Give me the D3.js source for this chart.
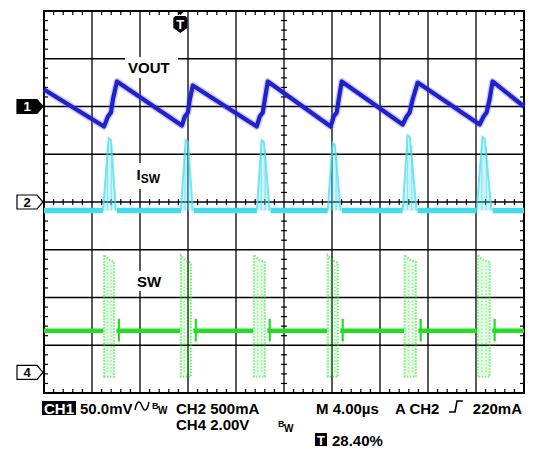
<!DOCTYPE html>
<html>
<head>
<meta charset="utf-8">
<script src="https://cdn.jsdelivr.net/npm/d3@7"></script>
<style>
  body { margin: 0; background: #fff; }
  svg { display: block; font-family: 'Liberation Sans', Arial, sans-serif; font-weight: bold; }
</style>
</head>
<body>
<svg width="535" height="450"></svg>
<script>
// scope settings
const timePerDiv = 4;          // µs
const ch1Scale = 50;           // mV/div
const ch2Scale = 500;          // mA/div
const ch4Scale = 2;            // V/div
const ch1Offset = 2;           // div
const ch2Offset = 0;
const ch4Offset = -3.57;
const triggerPos = 28.40;      // %

// VOUT (mV)
const voutT = [0, 5.00, 5.33, 5.58, 5.74, 6.08, 11.49, 11.74, 11.99, 12.15, 12.40,
  17.73, 17.98, 18.23, 18.40, 18.65, 23.89, 24.14, 24.39, 24.56, 24.81,
  29.89, 30.22, 30.47, 30.72, 31.14, 36.30, 36.63, 36.88, 37.13, 37.38, 40.0];
const voutMv = [17.8, -20.9, -10.5, -6.3, 7.3, 26.2, -19.9, -10.5, -6.3, 7.3, 22.0,
  -20.9, -10.5, -6.3, 7.3, 26.2, -20.9, -10.5, -6.3, 7.3, 26.2,
  -18.8, -10.5, -6.3, 7.3, 25.1, -18.8, -10.5, -6.3, 7.3, 26.2, 0];

// ISW (mA)
const iswStart = [4.91, 11.40, 17.73, 23.64, 29.89, 36.05];
const iswPeakT = [5.49, 11.90, 18.23, 24.14, 30.39, 36.63];
const iswEnd = [5.99, 12.40, 18.81, 24.73, 31.05, 37.30];
const iswPeak = [670, 650, 650, 620, 700, 680];
const iswBase = -90;

// SW (V)
const swStart = [5.00, 11.40, 17.48, 23.64, 30.05, 36.13];
const swEnd = [5.99, 12.40, 18.56, 24.64, 31.14, 37.30];
const swHigh = [4.93, 4.90, 4.93, 4.90, 4.93, 4.93];
const swLow = -0.18;
const swBase = 1.75;

const svg = d3.select('svg');
const x = d3.scaleLinear().domain([0, 10 * timePerDiv]).range([44, 524]);
const yDiv = d3.scaleLinear().domain([-4, 4]).range([393, 11]);
const y1 = (v) => yDiv(ch1Offset + v / ch1Scale);
const y2 = (v) => yDiv(ch2Offset + v / ch2Scale);
const y4 = (v) => yDiv(ch4Offset + v / ch4Scale);

// graticule
const grid = svg.append('g').attr('stroke', '#000');
grid.selectAll('.vl')
  .data(d3.range(1, 10))
  .enter()
  .append('line')
    .attr('x1', (d) => x(d * timePerDiv)).attr('x2', (d) => x(d * timePerDiv))
    .attr('y1', yDiv(4)).attr('y2', yDiv(-4))
    .attr('stroke-width', 1.3)
;
grid.selectAll('.hl')
  .data(d3.range(-3, 4))
  .enter()
  .append('line')
    .attr('x1', x(0)).attr('x2', x(40))
    .attr('y1', (d) => yDiv(d)).attr('y2', (d) => yDiv(d))
    .attr('stroke-width', 1.3)
;
const minorX = d3.range(1, 50).filter((d) => d % 5 !== 0).map((d) => d * timePerDiv / 5);
const minorY = d3.range(-19, 20).filter((d) => d % 5 !== 0).map((d) => d / 5);
// ticks on the border and on the centre lines
minorX.forEach(function (t) {
  [[yDiv(4), yDiv(4) + 4], [yDiv(-4) - 4, yDiv(-4)], [yDiv(0) - 3, yDiv(0) + 3]].forEach(function (s) {
    grid.append('line').attr('x1', x(t)).attr('x2', x(t)).attr('y1', s[0]).attr('y2', s[1]).attr('stroke-width', 1.2);
  });
});
minorY.forEach(function (v) {
  [[x(0), x(0) + 4], [x(40) - 4, x(40)], [x(20) - 3, x(20) + 3]].forEach(function (s) {
    grid.append('line').attr('y1', yDiv(v)).attr('y2', yDiv(v)).attr('x1', s[0]).attr('x2', s[1]).attr('stroke-width', 1.2);
  });
});
grid.append('rect')
  .attr('x', x(0)).attr('y', yDiv(4))
  .attr('width', x(40) - x(0)).attr('height', yDiv(-4) - yDiv(4))
  .attr('fill', 'none').attr('stroke-width', 2)
;

// labels with white boxes
function label(tx, ty, txt, sub, bx) {
  const g = svg.append('g');
  g.append('rect').attr('x', bx[0]).attr('y', bx[1]).attr('width', bx[2]).attr('height', bx[3]).attr('fill', '#fff');
  const t = g.append('text').attr('x', tx).attr('y', ty).attr('font-size', 15).text(txt);
  if (sub) t.append('tspan').attr('font-size', 12).attr('dy', 3).text(sub);
}
label(128, 73, 'VOUT', null, [125, 57, 53, 21]);
label(136.5, 180, 'I', 'SW', [133, 163, 32, 26]);
label(137, 287, 'SW', null, [133, 271, 32, 20]);

// ISW pulses
const cyan = '#44dcec';
const isw = svg.append('g');
iswStart.forEach(function (s, i) {
  const pts = [[s, iswBase], [iswPeakT[i] - 0.1, iswPeak[i]], [iswPeakT[i] + 0.1, iswPeak[i] - 20], [iswEnd[i], iswBase]];
  isw.append('path')
    .attr('d', d3.line().x((d) => x(d[0])).y((d) => y2(d[1]))(pts))
    .attr('fill', cyan).attr('fill-opacity', 0.28)
    .attr('stroke', cyan).attr('stroke-opacity', 0.7).attr('stroke-width', 2)
  ;
  [0.35, 0.65].forEach(function (f) {
    const tt = s + (iswEnd[i] - s) * f;
    isw.append('line')
      .attr('x1', x(tt)).attr('x2', x(tt))
      .attr('y1', y2(iswBase)).attr('y2', y2(iswPeak[i] * 0.85))
      .attr('stroke', cyan).attr('stroke-opacity', 0.5).attr('stroke-width', 1.2)
    ;
  });
});
// ISW baseline segments
const iswSegs = [[0, iswStart[0]]].concat(iswEnd.map((e, i) => [e + 0.08, i < iswStart.length - 1 ? iswStart[i + 1] : 40]));
isw.selectAll('.seg')
  .data(iswSegs)
  .enter()
  .append('line')
    .attr('x1', (d) => x(d[0])).attr('x2', (d) => x(d[1]))
    .attr('y1', y2(iswBase)).attr('y2', y2(iswBase))
    .attr('stroke', cyan).attr('stroke-width', 5.5)
;

// SW
const green = '#22dd22';
const sw = svg.append('g');
swStart.forEach(function (s, i) {
  const e = swEnd[i] - 0.15;
  sw.append('path')
    .attr('d', `M${x(s)},${y4(swLow)} L${x(s)},${y4(swHigh[i])} L${x(s + 0.4)},${y4(swHigh[i] - 0.2)} L${x(e)},${y4(swHigh[i] - 0.3)} L${x(e)},${y4(swLow)} Z`)
    .attr('fill', green).attr('fill-opacity', 0.12)
    .attr('stroke', green).attr('stroke-opacity', 0.55).attr('stroke-width', 2.2)
    .attr('stroke-dasharray', '1.5,1.5')
  ;
  [0.35, 0.7].forEach(function (f) {
    const tt = s + (e - s) * f;
    sw.append('line')
      .attr('x1', x(tt)).attr('x2', x(tt))
      .attr('y1', y4(swLow + 0.2)).attr('y2', y4(swHigh[i] - 0.4))
      .attr('stroke', green).attr('stroke-opacity', 0.35).attr('stroke-width', 1.5)
      .attr('stroke-dasharray', '1.5,2')
    ;
  });
  // ringing at turn-off
  sw.append('line')
    .attr('x1', x(swEnd[i] + 0.25)).attr('x2', x(swEnd[i] + 0.25))
    .attr('y1', y4(swBase + 0.5)).attr('y2', y4(swBase - 0.45))
    .attr('stroke', green).attr('stroke-width', 2.2)
  ;
});
const swSegs = [[0, swStart[0] - 0.05]].concat(swEnd.map((e, i) => [e + 0.05, i < swStart.length - 1 ? swStart[i + 1] - 0.05 : 40]));
sw.selectAll('.seg')
  .data(swSegs)
  .enter()
  .append('line')
    .attr('x1', (d) => x(d[0])).attr('x2', (d) => x(d[1]))
    .attr('y1', y4(swBase)).attr('y2', y4(swBase))
    .attr('stroke', green).attr('stroke-width', 4.5)
;

// VOUT
const voutLine = d3.line().x((d) => x(d[0])).y((d) => y1(d[1]));
const voutPts = voutT.map((t, i) => [t, voutMv[i]]);
svg.append('path')
  .attr('d', voutLine(voutPts))
  .attr('fill', 'none').attr('stroke', '#5a5ae0').attr('stroke-opacity', 0.3)
  .attr('stroke-width', 7).attr('stroke-linejoin', 'round')
;
svg.append('path')
  .attr('d', voutLine(voutPts))
  .attr('fill', 'none').attr('stroke', '#2020cc')
  .attr('stroke-width', 4.2).attr('stroke-linejoin', 'round')
;

// channel markers
function marker(ch, yy, filled) {
  const g = svg.append('g');
  g.append('path')
    .attr('d', `M17,${yy - 7} L37,${yy - 7} L43,${yy} L37,${yy + 7} L17,${yy + 7} Z`)
    .attr('fill', filled ? '#000' : '#fff').attr('stroke', '#000').attr('stroke-width', 1.2)
  ;
  g.append('text').attr('x', 27).attr('y', yy + 4.5).attr('text-anchor', 'middle')
    .attr('font-size', 13).attr('fill', filled ? '#fff' : '#000').text(ch);
}
marker('1', y1(0), true);
marker('2', y2(0), false);
marker('4', y4(0), false);

// trigger position marker
const tx = x(40 * triggerPos / 100);
svg.append('path')
  .attr('d', `M${tx - 5},10 L${tx + 5},10 L${tx},15 Z`)
  .attr('fill', '#000')
;
svg.append('path')
  .attr('d', `M${tx - 5},16 L${tx + 5},16 L${tx + 7},18 L${tx + 7},28 L${tx},33 L${tx - 7},28 L${tx - 7},18 Z`)
  .attr('fill', '#000')
;
svg.append('text').attr('x', tx).attr('y', 29).attr('text-anchor', 'middle')
  .attr('font-size', 13).attr('fill', '#fff').text('T');

// readout
const info = svg.append('g').attr('font-size', 15);
info.append('rect').attr('x', 42).attr('y', 401).attr('width', 34).attr('height', 14).attr('fill', '#000');
info.append('text').attr('x', 44).attr('y', 413.5).attr('fill', '#fff').text('CH1');
info.append('text').attr('x', 80).attr('y', 413.5).text('50.0mV');
info.append('path')
  .attr('d', 'M135,410 C137,400 140,400 142,406 C144,412 147,412 149,402')
  .attr('fill', 'none').attr('stroke', '#000').attr('stroke-width', 1.4)
;
info.append('text').attr('x', 152).attr('y', 409).attr('font-size', 9).text('B');
info.append('text').attr('x', 158).attr('y', 413.5).attr('font-size', 10).text('W');
info.append('text').attr('x', 176).attr('y', 413.5).text('CH2 500mA');
info.append('text').attr('x', 176).attr('y', 430).text('CH4 2.00V');
info.append('text').attr('x', 278).attr('y', 427).attr('font-size', 9).text('B');
info.append('text').attr('x', 284).attr('y', 432).attr('font-size', 10).text('W');
info.append('text').attr('x', 316).attr('y', 413.5).text('M 4.00µs');
info.append('text').attr('x', 395).attr('y', 413.5).text('A CH2');
info.append('path')
  .attr('d', 'M449,412 L455,412 L457,401 L463,401')
  .attr('fill', 'none').attr('stroke', '#000').attr('stroke-width', 1.6)
;
info.append('text').attr('x', 522).attr('y', 413.5).attr('text-anchor', 'end').text('220mA');
info.append('rect').attr('x', 315).attr('y', 433).attr('width', 12).attr('height', 13).attr('fill', '#000');
info.append('text').attr('x', 321).attr('y', 445).attr('text-anchor', 'middle').attr('font-size', 13).attr('fill', '#fff').text('T');
info.append('text').attr('x', 332).attr('y', 446).text('28.40%');
</script>
</body>
</html>
